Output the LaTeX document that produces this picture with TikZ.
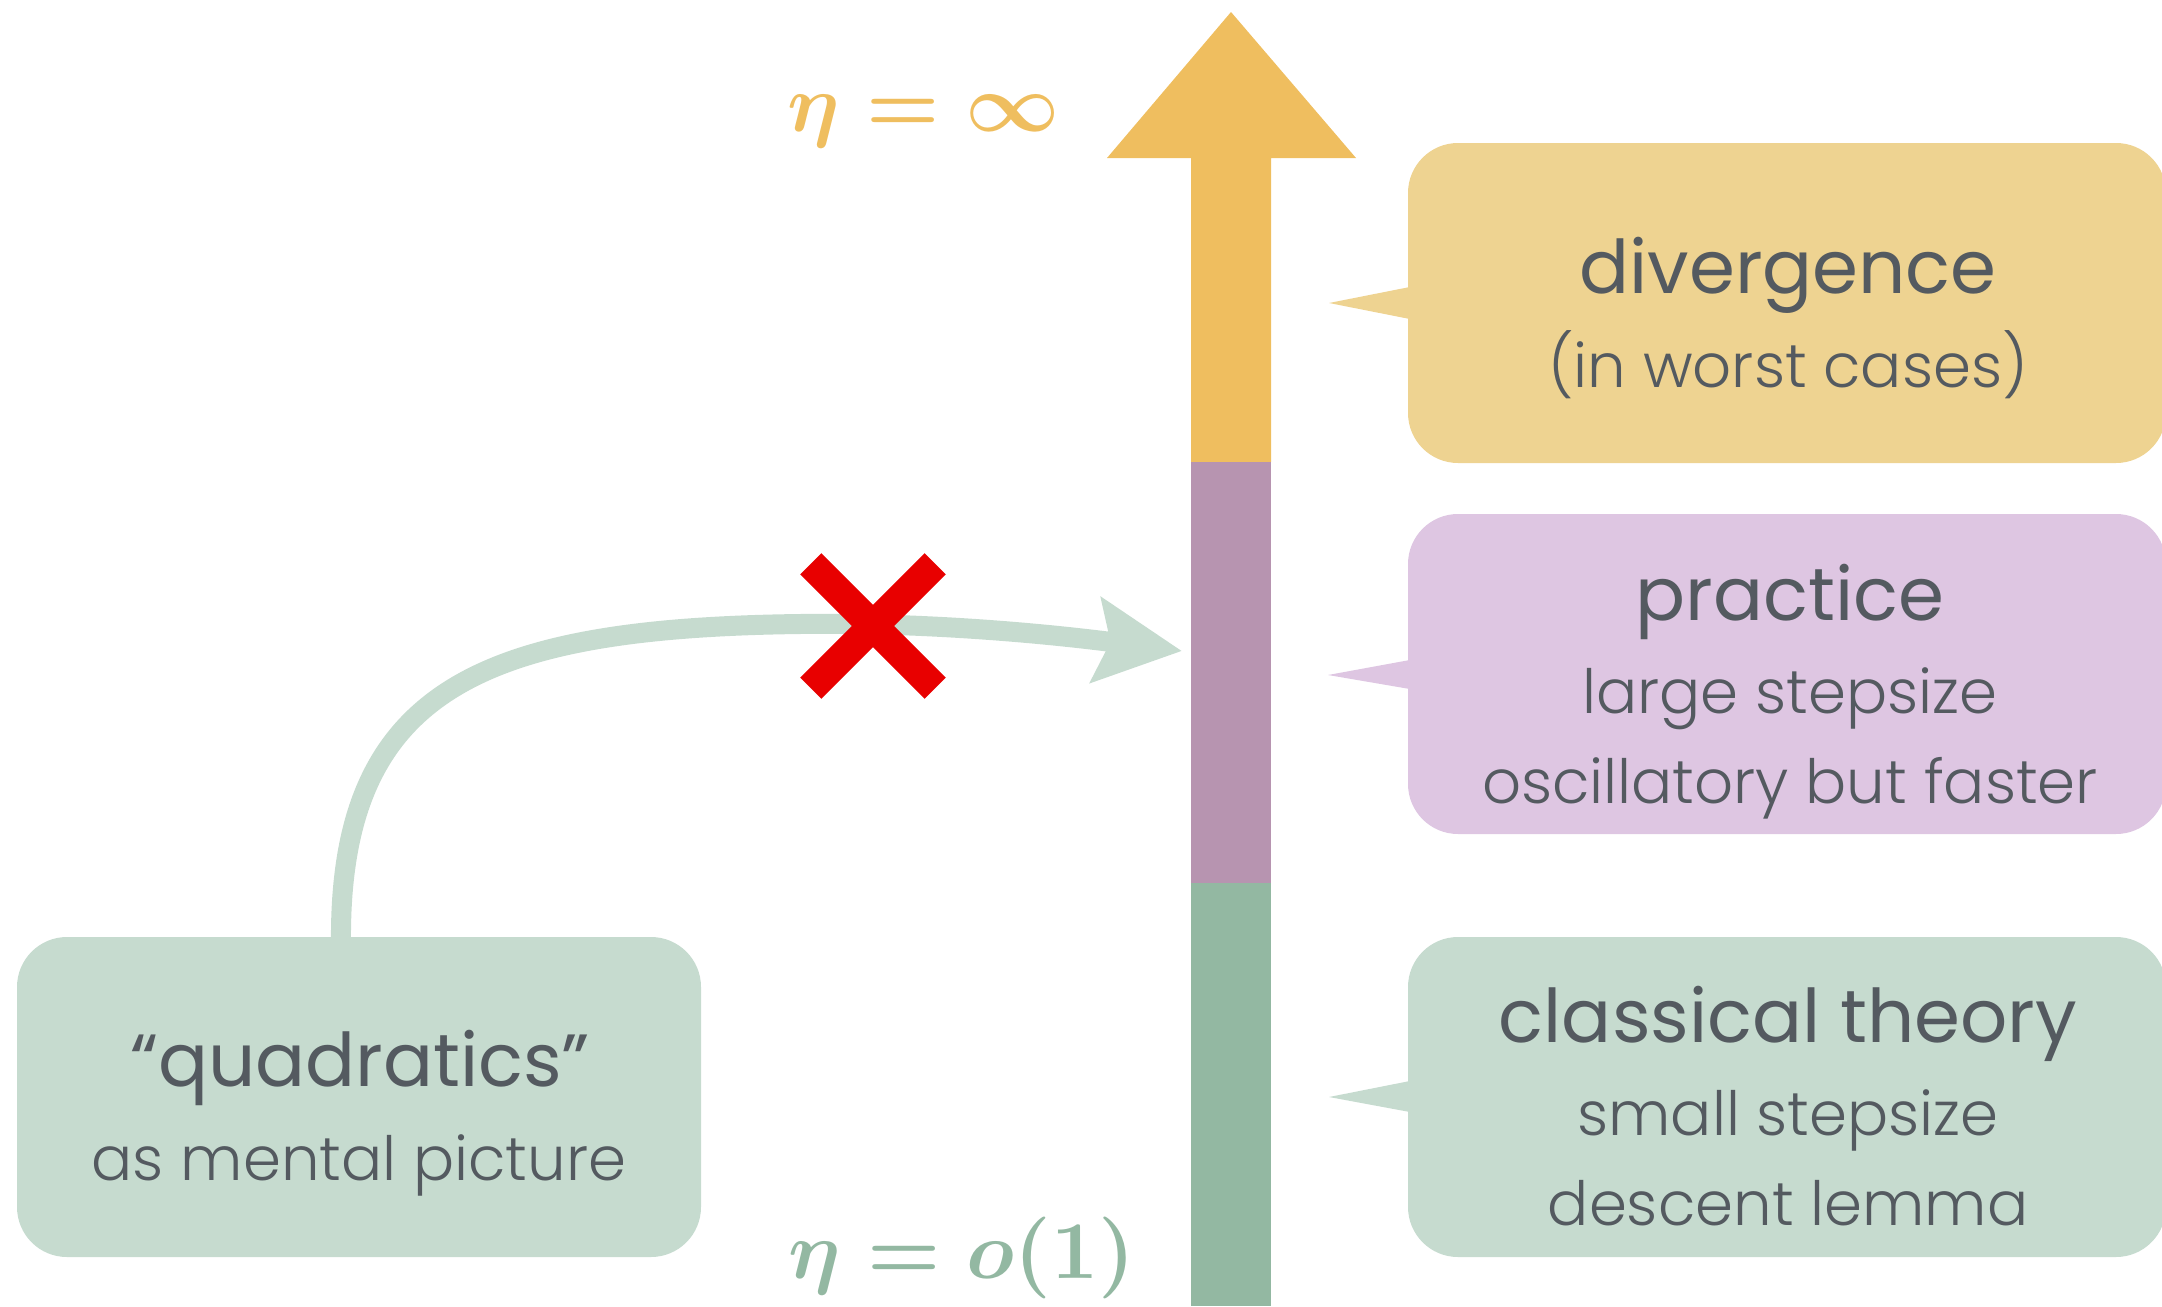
\documentclass[tikz,border=0pt]{standalone}
\usepackage{graphicx}
\usepackage[no-math]{fontspec}
\setmainfont{Poppins}
\newfontfamily\sublight{Poppins Light}
\usetikzlibrary{arrows.meta}
\definecolor{txt}{HTML}{545A60}
\definecolor{yel}{HTML}{EFBE5F}
\definecolor{yelbox}{HTML}{EED391}
\definecolor{pur}{HTML}{B794B0}
\definecolor{purbox}{HTML}{DEC6E2}
\definecolor{grn}{HTML}{93B8A2}
\definecolor{grnbox}{HTML}{C6DBCF}
\definecolor{xred}{HTML}{E80000}
\begin{document}
\begin{tikzpicture}[x=1pt,y=-1pt,
  box/.style={rectangle, rounded corners=50pt, minimum width=758pt, minimum height=320pt, inner sep=0pt},
  head/.style={text=txt, font=\fontsize{74}{80}\selectfont, anchor=base, inner sep=0pt},
  sub/.style={text=txt, font=\sublight\fontsize{61}{70}\selectfont, anchor=base, inner sep=0pt},
  eqn/.style={font=\fontsize{10}{12}\selectfont\boldmath, anchor=base, inner sep=0pt}]
\useasboundingbox (0,0) rectangle (2162,1306);
\clip (0,0) rectangle (2162,1306);
% big vertical arrow
\fill[yel] (1231,12) -- (1356,158) -- (1271,158) -- (1271,462) -- (1191,462) -- (1191,158) -- (1107,158) -- cycle;
\fill[pur] (1191,462) rectangle (1271,883);
\fill[grn] (1191,883) rectangle (1271,1306);
% boxes
\node[box, fill=yelbox] (div) at (1787,303) {};
\node[box, fill=purbox] (prac) at (1787,674) {};
\node[box, fill=grnbox] (cls) at (1787,1097) {};
\node[box, fill=grnbox, minimum width=684pt] (quad) at (359,1097) {};
% pointers
\coordinate (divtip) at (1329,303);
\coordinate (practip) at (1328,675);
\coordinate (clstip) at (1329,1097);
\fill[yelbox] ([xshift=2pt,yshift=16pt]div.west) -- (divtip) -- ([xshift=2pt,yshift=-16pt]div.west) -- cycle;
\fill[purbox] ([xshift=2pt,yshift=14pt]prac.west) -- (practip) -- ([xshift=2pt,yshift=-15pt]prac.west) -- cycle;
\fill[grnbox] ([xshift=2pt,yshift=16pt]cls.west) -- (clstip) -- ([xshift=2pt,yshift=-15pt]cls.west) -- cycle;
% texts
\node[head] (divh) at (1788,293) {divergence};
\node[sub] (divs) at (1788,387) {(in worst cases)};
\node[head] (prach) at (1790,620) {practice};
\node[sub] (pracs1) at (1790,713) {large stepsize};
\node[sub] (pracs2) at (1790,803) {oscillatory but faster};
\node[head] (clsh) at (1788,1042) {classical theory};
\node[sub] (clss1) at (1788,1135) {small stepsize};
\node[sub] (clss2) at (1788,1225) {descent lemma};
\node[head] (quadh) at (360,1086) {“quadratics”};
\node[sub] (quads) at (359,1180) {as mental picture};
% equations
\node[eqn, text=yel] (etainf) at (924,131) {\scalebox{8.2}{$\eta = \infty$}};
\node[eqn, text=grn] (etao) at (962,1278) {\scalebox{8.2}{$\eta = o(1)$}};
% curved arrow
\coordinate (tgt) at (1182,651);
\draw[grnbox, line width=20pt, -{Stealth[length=86pt, width=84pt, inset=14pt]}]
  ([xshift=-18pt,yshift=-8pt]quad.north) .. controls (338,690) and (480,628) .. (800,624)
  .. controls (950,622) and (1080,638) .. (tgt);
% red cross
\begin{scope}[shift={(873,626)}]
\fill[xred, rotate=45] (-88,-15) rectangle (88,15);
\fill[xred, rotate=-45] (-88,-15) rectangle (88,15);
\end{scope}
\end{tikzpicture}
\end{document}
